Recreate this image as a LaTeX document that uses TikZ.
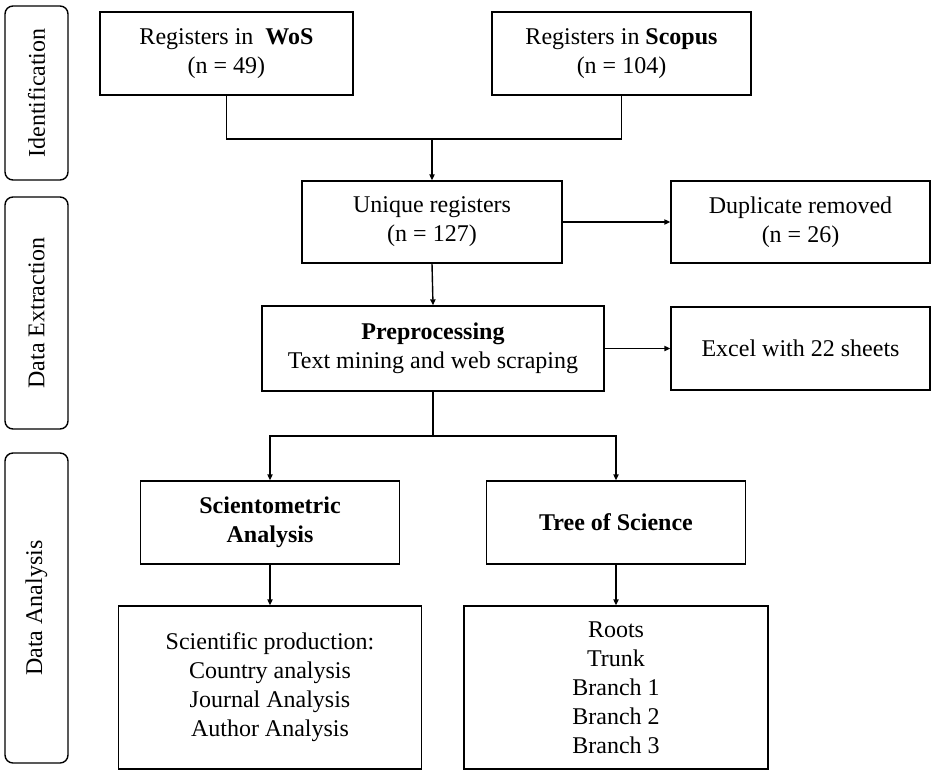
\documentclass[tikz,border=0pt]{standalone}
\usepackage{fontspec}
\setmainfont{Liberation Serif}
\usetikzlibrary{arrows.meta}

\begin{document}
\begin{tikzpicture}[x=0.5pt,y=-0.5pt,line width=0.7pt,
	box/.style={draw,align=center,inner sep=0pt,font=\fontsize{12pt}{14.5pt}\selectfont},
	side/.style={draw,rounded corners=4pt,inner sep=0pt,rotate=90,minimum height=31.5pt,font=\fontsize{12pt}{14.5pt}\selectfont},
	arr/.style={-{Triangle[length=3pt,width=2.6pt]}}]
	\useasboundingbox (0,0) rectangle (935,777);
	% stages on the left
	\node[side,minimum width=87pt] (ident) at (36.5,93) {Identification};
	\node[side,minimum width=116pt] (extr) at (36.5,313) {Data Extraction};
	\node[side,minimum width=155pt] (anal) at (36.5,608) {Data Analysis};
	% boxes
	\node[box,minimum width=126.5pt,minimum height=41.5pt] (wos) at (226.5,53.5) {Registers in~ \textbf{WoS}\\(n = 49)};
	\node[box,minimum width=129.5pt,minimum height=41.5pt] (scopus) at (621.5,53.5) {Registers in \textbf{Scopus}\\(n = 104)};
	\node[box,minimum width=130pt,minimum height=41pt] (uniq) at (432,222) {Unique registers\\(n = 127)};
	\node[box,minimum width=129.5pt,minimum height=41pt] (dup) at (800.5,222) {Duplicate removed\\(n = 26)};
	\node[box,minimum width=171pt,minimum height=42.5pt] (prep) at (433,348.5) {\textbf{Preprocessing}\\Text mining and web scraping};
	\node[box,minimum width=129.5pt,minimum height=41.5pt] (excel) at (800.5,348.5) {Excel with 22 sheets};
	\node[box,minimum width=129.5pt,minimum height=41.5pt] (sci) at (270,522.5) {\textbf{Scientometric}\\\textbf{Analysis}};
	\node[box,minimum width=129.5pt,minimum height=41.5pt] (tos) at (616,522.5) {\textbf{Tree of Science}};
	\node[box,minimum width=151.5pt,minimum height=81.5pt] (prod) at (270,687.5) {Scientific production:\\Country analysis\\Journal Analysis\\Author Analysis};
	\node[box,minimum width=152pt,minimum height=81.5pt] (tree) at (616,687.5) {Roots\\Trunk\\Branch 1\\Branch 2\\Branch 3};
	% connectors
	\coordinate (j1) at (432,139);
	\coordinate (j2) at (433,436);
	\draw (wos.south) |- (j1) -| (scopus.south);
	\draw[arr] (j1) -- (uniq.north);
	\draw[arr] (uniq.east) -- (dup.west);
	\draw[arr] (uniq.south) -- (prep.north);
	\draw[arr] (prep.east) -- (excel.west);
	\draw (prep.south) -- (j2);
	\draw[arr] (j2) -| (sci.north);
	\draw[arr] (j2) -| (tos.north);
	\draw[arr] (sci.south) -- (prod.north);
	\draw[arr] (tos.south) -- (tree.north);
\end{tikzpicture}
\end{document}
